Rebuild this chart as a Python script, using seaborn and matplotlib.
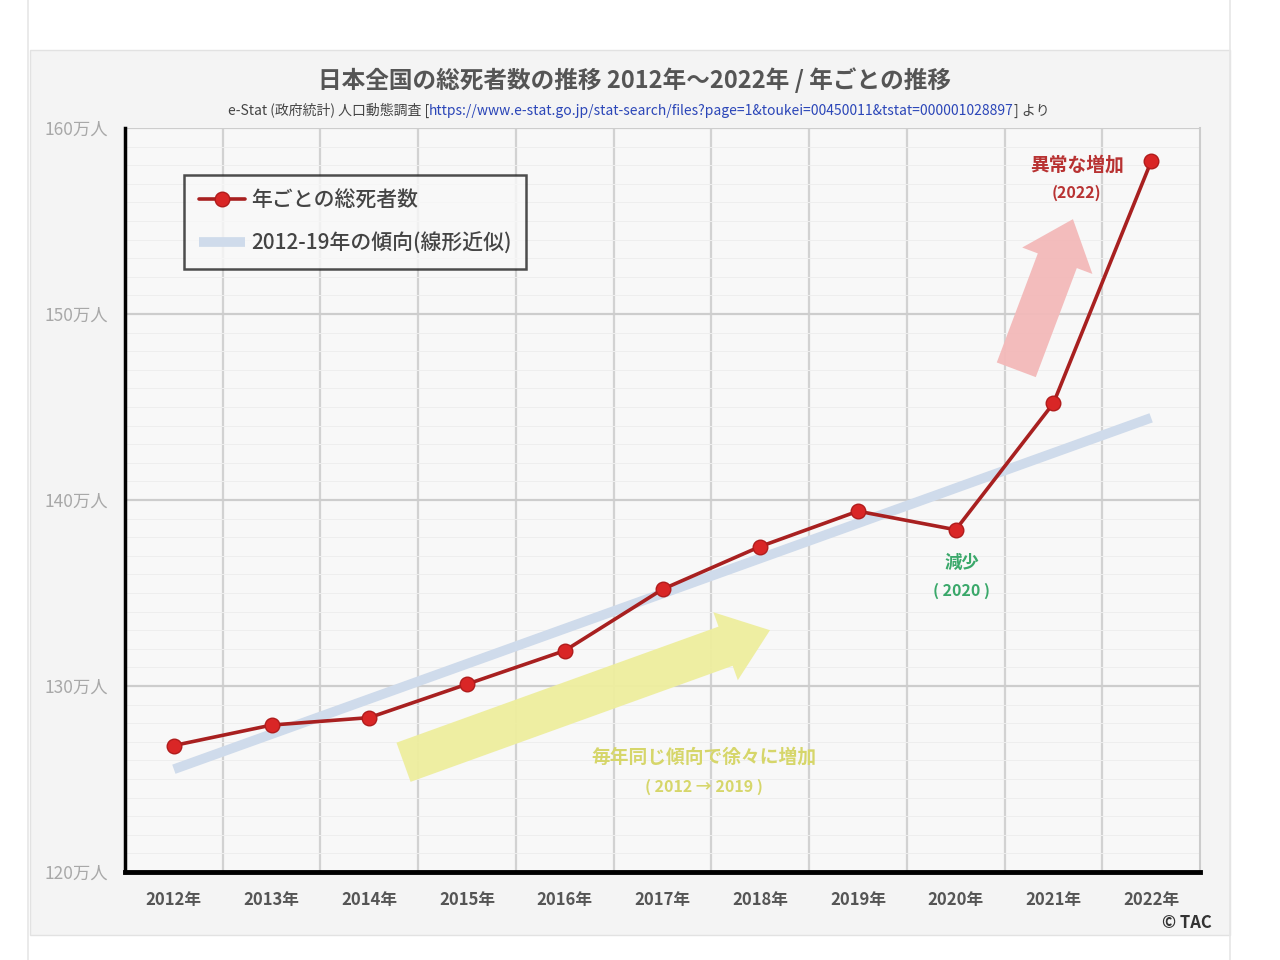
"""
Japan total deaths 2012-2022, yearly trend chart.
"""

#Libraries
import numpy as np
import pandas as pd
import matplotlib
matplotlib.use("Agg")
import matplotlib.pyplot as plt
import seaborn as sns
from matplotlib.patches import FancyArrowPatch, Rectangle
from matplotlib.lines import Line2D

#Data (万人)
years = [2012, 2013, 2014, 2015, 2016, 2017, 2018, 2019, 2020, 2021, 2022]
deaths = [126.8, 127.9, 128.3, 130.1, 131.9, 135.2, 137.5, 139.4, 138.4, 145.2, 158.2]
year_labels = [f"{y}年" for y in years]
y_ticks = [120, 130, 140, 150, 160]
y_tick_labels = [f"{v}万人" for v in y_ticks]

title_text = "日本全国の総死者数の推移 2012年～2022年 / 年ごとの推移"
source_pre = "e-Stat (政府統計) 人口動態調査 ["
source_url = "https://www.e-stat.go.jp/stat-search/files?page=1&toukei=00450011&tstat=000001028897"
source_post = "] より"
legend_labels = ["年ごとの総死者数", "2012-19年の傾向(線形近似)"]

#Trend: linear fit of 2012-2019
fit_years = [y for y in years if y <= 2019]
fit_vals = deaths[:len(fit_years)]
slope, intercept = np.polyfit(fit_years, fit_vals, 1)
df = pd.DataFrame({"year": years, "deaths": deaths})
df["trend"] = slope * df["year"] + intercept

#Style
sns.set_theme(style="white")
plt.rcParams["font.family"] = ["Noto Sans CJK JP", "DejaVu Sans"]

fig = plt.figure(figsize=(12.8, 9.6), dpi=100)
fig.patch.set_facecolor("white")

#Grey panel behind the chart
panel = Rectangle((30 / 1280, 1 - 935 / 960), 1200 / 1280, 885 / 960,
                  transform=fig.transFigure, facecolor="#f4f4f4",
                  edgecolor="#e2e2e2", lw=1, zorder=-10)
fig.add_artist(panel)
for xp in (28 / 1280, 1230 / 1280):
    fig.add_artist(Line2D([xp, xp], [0, 1], transform=fig.transFigure,
                          color="#e6e6e6", lw=1.2, zorder=-9))

ax = fig.add_axes([125 / 1280, 1 - 872 / 960, 1075 / 1280, 744 / 960])
ax.set_zorder(1)
ax.set_facecolor("#f8f8f8")

#Trend line
sns.lineplot(data=df, x="year", y="trend", ax=ax, color="#cfdbeb", lw=7,
             solid_capstyle="butt", zorder=2, label=legend_labels[1])
#Deaths line
sns.lineplot(data=df, x="year", y="deaths", ax=ax, color="#a82020", lw=2.6,
             marker="o", markersize=10.5, markerfacecolor="#d92626",
             markeredgecolor="#b01c1c", markeredgewidth=1, zorder=4,
             label=legend_labels[0])

ax.set_xlim(years[0] - 0.5, years[-1] + 0.5)
ax.set_ylim(y_ticks[0], y_ticks[-1])
ax.set_xticks(years)
ax.set_xticklabels(year_labels, fontsize=12, color="#555555", fontweight="bold")
ax.set_yticks(y_ticks)
ax.set_yticklabels(y_tick_labels, fontsize=12.5, color="#a8a8a8")
ax.set_xticks([y + 0.5 for y in years[:-1]], minor=True)
ax.set_yticks(np.arange(y_ticks[0], y_ticks[-1] + 1, 1), minor=True)
ax.tick_params(axis="x", which="both", length=0, pad=14)
ax.tick_params(axis="y", which="both", length=0, pad=12)

ax.grid(axis="y", which="major", color="#cdcdcd", lw=1.6)
ax.grid(axis="y", which="minor", color="#eeeeee", lw=0.7)
ax.grid(axis="x", which="minor", color="#d2d2d2", lw=1.6)
ax.grid(axis="x", which="major", visible=False)
ax.set_axisbelow(True)
ax.set_xlabel("")
ax.set_ylabel("")

ax.spines["left"].set_color("black")
ax.spines["left"].set_linewidth(2.5)
ax.spines["bottom"].set_color("black")
ax.spines["bottom"].set_linewidth(3.5)
ax.spines["top"].set_visible(False)
ax.spines["right"].set_color("#cccccc")
ax.spines["right"].set_linewidth(1.5)

#Legend
handles, labels = ax.get_legend_handles_labels()
order = [labels.index(legend_labels[0]), labels.index(legend_labels[1])]
leg = ax.legend([handles[i] for i in order], [labels[i] for i in order],
                loc="upper left", bbox_to_anchor=(0.055, 0.937), fontsize=15,
                frameon=True, fancybox=False, edgecolor="#222222",
                handlelength=2.2, handletextpad=0.3, borderpad=0.7,
                labelspacing=1.0, borderaxespad=0)
leg.get_frame().set_linewidth(1.8)
leg.get_frame().set_facecolor("#f8f8f8")
for t in leg.get_texts():
    t.set_color("#444444")
    t.set_fontweight("medium")

#Decorative arrows
ax.add_patch(FancyArrowPatch((2014.35, 125.9), (2018.1, 133.0),
                             arrowstyle="simple,head_width=52,head_length=34,tail_width=30",
                             mutation_scale=1, color="#eeee9e", alpha=0.95,
                             shrinkA=0, shrinkB=0, zorder=1.5, lw=0))
ax.add_patch(FancyArrowPatch((2020.62, 147.0), (2021.2, 155.1),
                             arrowstyle="simple,head_width=54,head_length=32,tail_width=30",
                             mutation_scale=1, color="#f3b9b9", alpha=0.95,
                             shrinkA=0, shrinkB=0, zorder=1.5, lw=0))

#Annotations
ax.text(2021.24, 158.0, "異常な増加", color="#b83232", fontsize=13.5,
        fontweight="bold", ha="center", va="center")
ax.text(2021.24, 156.5, "(2022)", color="#b83232", fontsize=11.5,
        fontweight="bold", ha="center", va="center")
ax.text(2020.06, 136.6, "減少", color="#3aa86a", fontsize=12.5,
        fontweight="bold", ha="center", va="center")
ax.text(2020.06, 135.1, "( 2020 )", color="#3aa86a", fontsize=11.5,
        fontweight="bold", ha="center", va="center")
ax.text(2017.42, 126.2, "毎年同じ傾向で徐々に増加", color="#d6d66a", fontsize=13.5,
        fontweight="bold", ha="center", va="center")
ax.text(2017.42, 124.6, "( 2012 → 2019 )", color="#d6d66a", fontsize=11.5,
        fontweight="bold", ha="center", va="center")

#Title and source line
fig.text(0.496, 1 - 80 / 960, title_text, ha="center", va="center",
         fontsize=17, fontweight="bold", color="#555555")
t1 = fig.text(228 / 1280, 1 - 110 / 960, source_pre, ha="left", va="center",
              fontsize=10, color="#444444")
t2 = ax.annotate(source_url, xy=(1, 0), xycoords=t1, va="bottom", ha="left",
                 fontsize=10, color="#2b46b8", annotation_clip=False)
ax.annotate(source_post, xy=(1, 0), xycoords=t2, va="bottom", ha="left",
            fontsize=10, color="#444444", annotation_clip=False)

fig.text(1187 / 1280, 1 - 923 / 960, "© TAC", ha="center", va="center",
         fontsize=12, fontweight="bold", color="#333333")

fig.savefig("out.png", dpi=100, facecolor=fig.get_facecolor())
